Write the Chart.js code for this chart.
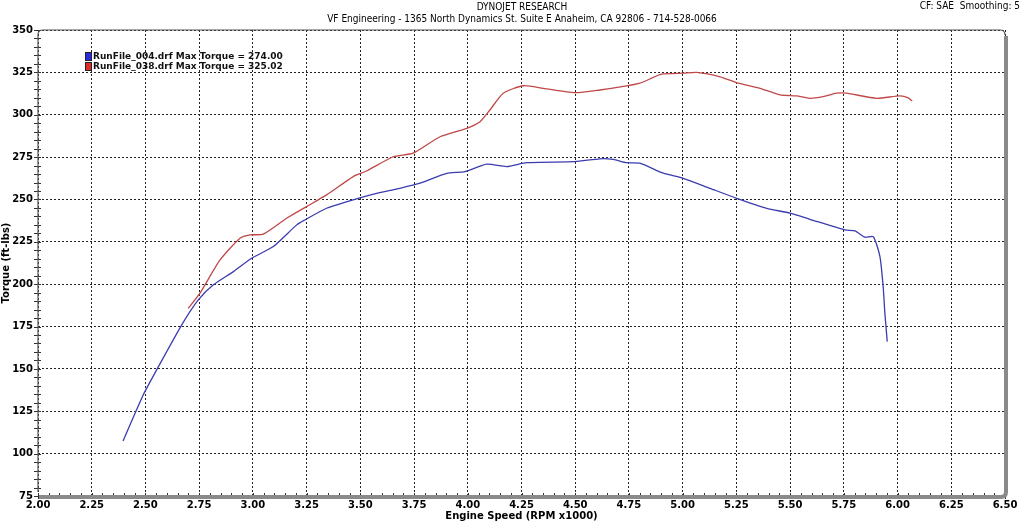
<!DOCTYPE html>
<html>
<head>
<meta charset="utf-8">
<script src="https://cdn.jsdelivr.net/npm/chart.js@4.4.1/dist/chart.umd.min.js"></script>
<style>
  html, body { margin: 0; padding: 0; background: #fff; }
  #wrap { position: relative; width: 1024px; height: 522px; }
</style>
</head>
<body>
<div id="wrap"><canvas id="dyno" width="1024" height="522"></canvas></div>
<script>
// run 004 (blue)
const blueRpm = [2.396, 2.49, 2.552, 2.669, 2.746, 2.816, 2.909, 2.994, 3.095, 3.204, 3.242, 3.343, 3.49, 3.576, 3.684, 3.778, 3.902, 3.987, 4.088, 4.181, 4.274, 4.499, 4.615, 4.677, 4.739, 4.801, 4.91, 5.003, 5.127, 5.251, 5.391, 5.499, 5.592, 5.755, 5.802, 5.848, 5.887, 5.918, 5.933, 5.941, 5.952]
const blueTq = [107.5, 134.7, 149.4, 176.0, 190.7, 199.6, 207.4, 215.3, 222.2, 235.0, 237.9, 244.8, 250.7, 253.6, 256.6, 259.6, 265.4, 266.4, 270.8, 269.4, 271.7, 272.3, 274.0, 273.6, 271.7, 271.4, 265.5, 262.5, 256.6, 250.7, 244.8, 241.9, 238.3, 232.0, 231.4, 227.7, 228.1, 216.3, 198.6, 182.9, 166.1]

// run 038 (red)
const redRpm = [2.699, 2.754, 2.847, 2.94, 2.987, 3.048, 3.157, 3.25, 3.343, 3.467, 3.529, 3.653, 3.746, 3.871, 3.995, 4.057, 4.103, 4.165, 4.258, 4.351, 4.499, 4.615, 4.739, 4.801, 4.902, 5.003, 5.065, 5.174, 5.251, 5.36, 5.453, 5.53, 5.592, 5.654, 5.716, 5.762, 5.903, 6.011, 6.05, 6.068]
const redTq = [185.8, 194.7, 214.3, 227.1, 229.1, 229.5, 238.9, 245.8, 252.7, 263.5, 266.8, 275.2, 277.3, 287.0, 292.0, 295.9, 302.8, 312.7, 317.1, 315.6, 313.0, 314.6, 317.0, 318.6, 323.9, 324.5, 325.0, 322.4, 318.9, 315.6, 311.7, 311.1, 309.7, 310.7, 312.7, 312.7, 309.7, 311.1, 310.0, 308.1]

const legendLabels = ['RunFile_004.drf Max Torque = 274.00', 'RunFile_038.drf Max Torque = 325.02']
const xTicks = [2.00, 2.25, 2.50, 2.75, 3.00, 3.25, 3.50, 3.75, 4.00, 4.25, 4.50, 4.75, 5.00, 5.25, 5.50, 5.75, 6.00, 6.25, 6.50]
const yTicks = [75, 100, 125, 150, 175, 200, 225, 250, 275, 300, 325, 350]

const toPoints = (xs, ys) => xs.map((x, i) => ({ x: x, y: ys[i] }))

// header text, legend, frame and minor ticks
const dynoDecor = {
  id: 'dynoDecor',
  beforeDraw(chart) {
    const ctx = chart.ctx
    ctx.save()
    ctx.fillStyle = '#000'
    ctx.textBaseline = 'middle'
    ctx.font = '10px "DejaVu Sans Condensed", "Liberation Sans Narrow", sans-serif'
    ctx.textAlign = 'center'
    ctx.fillText('DYNOJET RESEARCH', 522, 7)
    ctx.fillText('VF Engineering - 1365 North Dynamics St. Suite E Anaheim, CA 92806 - 714-528-0066', 522, 19)
    ctx.textAlign = 'right'
    ctx.fillText('CF: SAE  Smoothing: 5', 1020, 6)
    ctx.restore()
  },
  afterDraw(chart) {
    const ctx = chart.ctx
    const a = chart.chartArea
    const xs = chart.scales.x
    const ys = chart.scales.y
    ctx.save()

    // minor ticks
    ctx.strokeStyle = '#333'
    ctx.lineWidth = 1
    ctx.beginPath()
    for (let v = 75; v <= 350; v += 5) {
      const py = Math.round(ys.getPixelForValue(v)) + 0.5
      ctx.moveTo(a.left - 4, py)
      ctx.lineTo(a.left + 3, py)
    }
    for (let i = 0; i <= 90; i++) {
      const px = Math.round(xs.getPixelForValue(2 + i * 0.05)) + 0.5
      ctx.moveTo(px, a.bottom - 3)
      ctx.lineTo(px, a.bottom + 3)
    }
    ctx.stroke()

    // frame
    ctx.strokeStyle = '#8a8a8a'
    ctx.lineWidth = 4
    ctx.beginPath()
    ctx.moveTo(a.left + 1, a.bottom + 1)
    ctx.lineTo(a.right - 4, a.bottom + 1)
    ctx.quadraticCurveTo(a.right + 1, a.bottom + 1, a.right + 1, a.bottom - 4)
    ctx.lineTo(a.right + 1, a.top + 6)
    ctx.stroke()
    ctx.strokeStyle = '#555'
    ctx.lineWidth = 1.2
    ctx.beginPath()
    ctx.moveTo(a.left, a.bottom - 4)
    ctx.lineTo(a.left, a.top + 5)
    ctx.quadraticCurveTo(a.left, a.top, a.left + 5, a.top)
    ctx.lineTo(a.right - 5, a.top)
    ctx.quadraticCurveTo(a.right, a.top, a.right, a.top + 5)
    ctx.stroke()

    // legend
    const cols = ['#2a2ae0', '#e02a2a']
    ctx.font = 'bold 9px "DejaVu Sans", sans-serif'
    ctx.textAlign = 'left'
    ctx.textBaseline = 'middle'
    legendLabels.forEach((t, i) => {
      const y = 56 + i * 10
      ctx.fillStyle = cols[i]
      ctx.fillRect(85, y - 4, 6, 8)
      ctx.strokeStyle = '#222'
      ctx.lineWidth = 1
      ctx.strokeRect(85.5, y - 3.5, 6, 8)
      ctx.fillStyle = '#111'
      ctx.fillText(t, 93, y + 0.5)
    })
    ctx.restore()
  }
}

new Chart(document.getElementById('dyno'), {
  type: 'line',
  data: {
    datasets: [
      {
        label: legendLabels[0],
        data: toPoints(blueRpm, blueTq),
        borderColor: '#3c3cb0',
        borderWidth: 1.3,
        pointRadius: 0,
        tension: 0.2,
      },
      {
        label: legendLabels[1],
        data: toPoints(redRpm, redTq),
        borderColor: '#c04848',
        borderWidth: 1.3,
        pointRadius: 0,
        tension: 0.2,
      },
    ],
  },
  options: {
    responsive: false,
    animation: false,
    layout: { padding: { top: 30, right: 19, left: 0, bottom: 0 } },
    plugins: {
      legend: { display: false },
      tooltip: { enabled: false },
    },
    scales: {
      x: {
        type: 'linear',
        min: 2,
        max: 6.5,
        afterBuildTicks: (s) => { s.ticks = xTicks.map(v => ({ value: v })) },
        afterFit: (s) => { s.height = 26 },
        border: { display: false, dash: [2, 2] },
        grid: {
          color: '#222',
          lineWidth: 1,
          drawTicks: false,
        },
        ticks: {
          padding: 3,
          maxRotation: 0,
          color: '#000',
          font: { family: '"DejaVu Sans", sans-serif', size: 10, weight: 'bold' },
          callback: (v) => Number(v).toFixed(2),
        },
        title: {
          display: true,
          text: 'Engine Speed (RPM x1000)',
          color: '#000',
          padding: 0,
          font: { family: '"DejaVu Sans", sans-serif', size: 10, weight: 'bold' },
        },
      },
      y: {
        min: 75,
        max: 350,
        afterBuildTicks: (s) => { s.ticks = yTicks.map(v => ({ value: v })) },
        afterFit: (s) => { s.width = 38 },
        border: { display: false, dash: [2, 2] },
        grid: {
          color: '#222',
          lineWidth: 1,
          drawTicks: false,
        },
        ticks: {
          padding: 5,
          color: '#000',
          font: { family: '"DejaVu Sans", sans-serif', size: 10, weight: 'bold' },
        },
        title: {
          display: true,
          text: 'Torque (ft-lbs)',
          color: '#000',
          padding: 0,
          font: { family: '"DejaVu Sans", sans-serif', size: 10, weight: 'bold' },
        },
      },
    },
  },
  plugins: [dynoDecor],
})
</script>
</body>
</html>
